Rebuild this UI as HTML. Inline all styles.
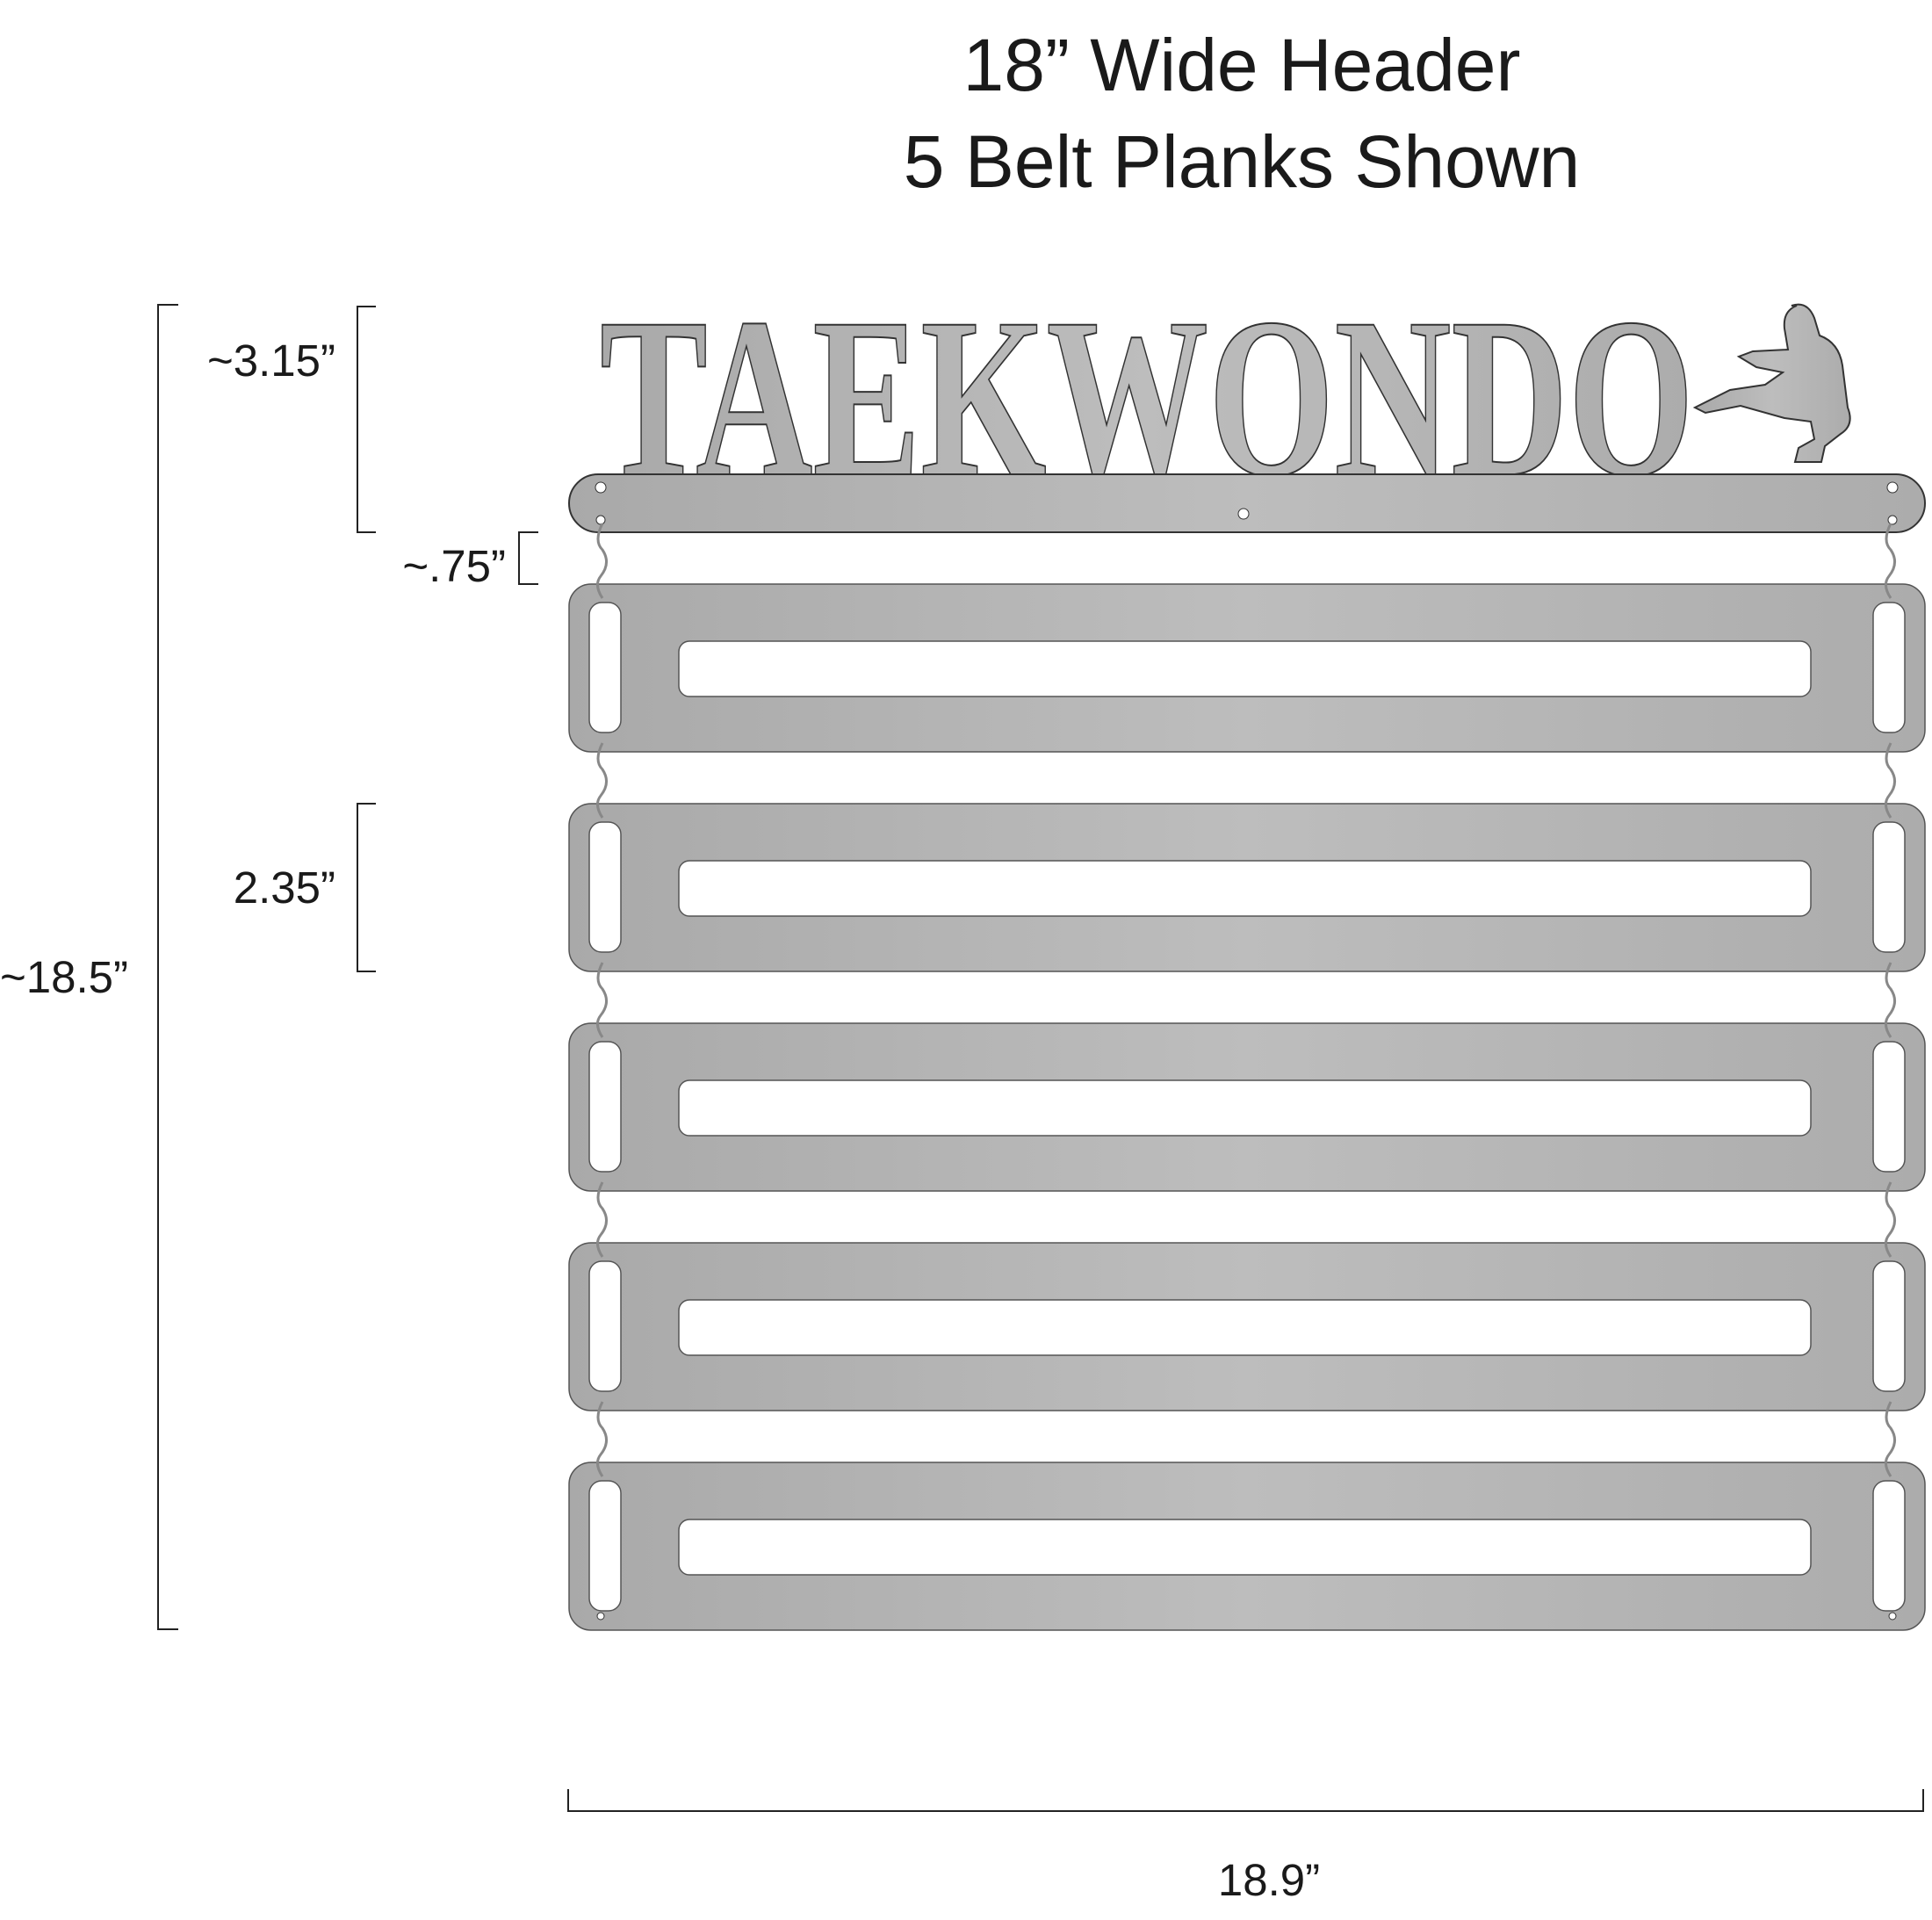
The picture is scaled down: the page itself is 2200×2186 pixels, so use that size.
<!DOCTYPE html>
<html><head><meta charset="utf-8"><style>
html,body{margin:0;padding:0;background:#fff}
body{width:2200px;height:2181px;overflow:hidden;position:relative}
</style></head><body>
<svg width="2200" height="2181" viewBox="0 0 2200 2181" xmlns="http://www.w3.org/2000/svg">
<defs>
<linearGradient id="m" x1="0" y1="0" x2="1" y2="0">
<stop offset="0" stop-color="#a9a9a9"/><stop offset="0.5" stop-color="#bdbdbd"/><stop offset="1" stop-color="#acacac"/>
</linearGradient>
</defs>
<g font-family="Liberation Sans, sans-serif" fill="#1a1a1a" text-anchor="middle" font-size="84">
<text x="1414" y="103">18”  Wide Header</text>
<text x="1414" y="213">5 Belt Planks Shown</text>
</g>
<text x="683" y="540" font-family="Liberation Serif, serif" font-weight="bold" font-size="260" textLength="1246" lengthAdjust="spacingAndGlyphs" fill="url(#m)" stroke="#333" stroke-width="2">TAEKWONDO</text>
<path d="M2040 348 q18 -6 26 14 l6 20 q22 8 26 34 l6 48 q8 20 -8 30 l-18 14 l-4 18 l-30 0 l4 -16 l18 -10 l-4 -20 l-30 -4 l-50 -14 l-40 8 l-12 -6 l40 -20 l40 -6 l20 -14 l-30 -6 l-20 -12 l16 -6 l40 -2 l-4 -24 q-2 -20 14 -26 z" fill="url(#m)" stroke="#333" stroke-width="2"/>
<rect x="648" y="540" width="1544" height="66" rx="33" fill="url(#m)" stroke="#333" stroke-width="2"/>
<circle cx="684" cy="555" r="6" fill="#fff" stroke="#333"/>
<circle cx="2155" cy="555" r="6" fill="#fff" stroke="#333"/>
<circle cx="1416" cy="585" r="6" fill="#fff" stroke="#333"/>
<circle cx="684" cy="592" r="5" fill="#fff" stroke="#333"/>
<circle cx="2155" cy="592" r="5" fill="#fff" stroke="#333"/>
<g id="planks">
<path d="M648 690 a25 25 0 0 1 25 -25 h1494 a25 25 0 0 1 25 25 v141 a25 25 0 0 1 -25 25 h-1494 a25 25 0 0 1 -25 -25 z M671 700 v120 a14 14 0 0 0 14 14 h8 a14 14 0 0 0 14 -14 v-120 a14 14 0 0 0 -14 -14 h-8 a14 14 0 0 0 -14 14 z M2133 700 v120 a14 14 0 0 0 14 14 h8 a14 14 0 0 0 14 -14 v-120 a14 14 0 0 0 -14 -14 h-8 a14 14 0 0 0 -14 14 z M773 742 v39 a12 12 0 0 0 12 12 h1265 a12 12 0 0 0 12 -12 v-39 a12 12 0 0 0 -12 -12 h-1265 a12 12 0 0 0 -12 12 z" fill="url(#m)" fill-rule="evenodd" stroke="#555" stroke-width="1.5"/>
</g>
<use href="#planks" y="250"/>
<use href="#planks" y="500"/>
<use href="#planks" y="750"/>
<use href="#planks" y="1000"/>
<g id="hook" fill="none" stroke="#888" stroke-width="3">
<path d="M686 596 q-10 20 0 30 q10 15 -2 30 q-8 10 2 25"/>
<path d="M2153 596 q-10 20 0 30 q10 15 -2 30 q-8 10 2 25"/>
</g>
<use href="#hook" y="250"/><use href="#hook" y="500"/><use href="#hook" y="750"/><use href="#hook" y="1000"/>
<circle cx="684" cy="1840" r="4" fill="#fff" stroke="#333"/>
<circle cx="2155" cy="1840" r="4" fill="#fff" stroke="#333"/>
<g fill="none" stroke="#222" stroke-width="2">
<path d="M203 347 H180 V1855 H203"/>
<path d="M428 349 H407 V606 H428"/>
<path d="M613 606 H591 V665 H613"/>
<path d="M428 915 H407 V1106 H428"/>
<path d="M647 2037 V2062 H2190 V2037"/>
</g>
<g font-family="Liberation Sans, sans-serif" fill="#1a1a1a" font-size="51">
<text x="382" y="428" text-anchor="end">~3.15”</text>
<text x="576" y="662" text-anchor="end">~.75”</text>
<text x="382" y="1028" text-anchor="end">2.35”</text>
<text x="0" y="1130">~18.5”</text>
<text x="1445" y="2158" text-anchor="middle">18.9”</text>
</g>
</svg>
</body></html>
